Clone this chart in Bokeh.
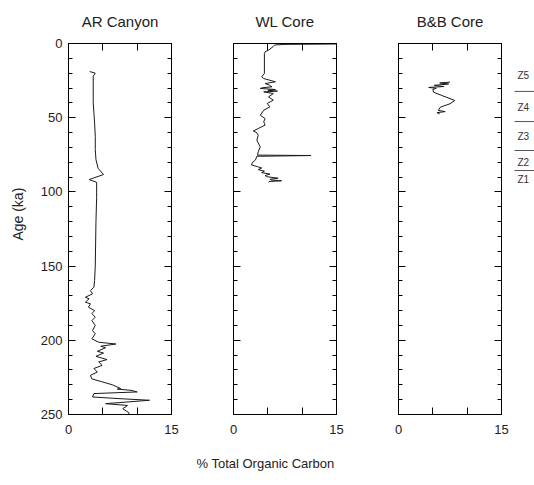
import math
from bokeh.plotting import figure
from bokeh.models import Range1d, LinearAxis, FixedTicker, Spacer
from bokeh.core.properties import value
from bokeh.layouts import row, column
from bokeh.embed import file_html
from bokeh.resources import INLINE

# ---- data ----
PANEL_TITLES = ["AR Canyon", "WL Core", "B&B Core"]
X_TICKS = [0, 15]
X_MINOR_TICKS = [5, 10]
Y_TICKS = [0, 50, 100, 150, 200, 250]
Y_MINOR_TICKS = [10, 20, 30, 40, 60, 70, 80, 90, 110, 120, 130, 140, 160, 170, 180, 190, 210, 220, 230, 240]

AR_AGE = [18.9, 20.0, 22.0, 28.8, 40.0, 46.7, 53.5, 62.5, 71.4, 78.2, 84.0, 88.3, 91.7, 93.5, 103.6,
          120.0, 150.0, 159.7, 164.2, 166.5, 168.7, 171.0, 172.0, 174.3, 175.4, 177.7, 180.0, 182.0,
          184.4, 186.7, 190.0, 193.4, 195.6, 199.0, 201.3, 202.5, 204.0, 205.0, 207.4, 208.6, 210.8,
          213.0, 214.6, 216.9, 219.0, 221.4, 223.6, 226.0, 228.0, 230.0, 232.5, 232.9, 233.7, 234.8,
          235.9, 238.2, 239.3, 240.4, 242.7, 243.9, 246.1, 248.8, 250.0]
AR_TOC = [3.1, 3.9, 3.6, 3.6, 3.6, 3.7, 3.8, 3.9, 3.9, 4.0, 4.3, 5.1, 3.0, 4.1, 4.1,
          4.0, 3.9, 3.8, 3.7, 3.2, 3.5, 2.45, 3.0, 2.45, 3.2, 2.9, 3.8, 3.4,
          3.9, 3.4, 3.9, 3.5, 3.9, 3.4, 4.4, 6.9, 4.7, 5.4, 4.2, 5.1, 4.0,
          5.6, 4.4, 4.9, 3.7, 4.2, 3.2, 3.4, 4.9, 6.4, 7.6, 7.1, 9.1, 10.0,
          3.7, 3.5, 7.35, 11.8, 5.4, 8.6, 7.9, 8.8, 8.8]

WL_AGE = [0.3, 0.6, 1.0, 2.0, 2.7, 4.5, 5.6, 6.7, 20.2, 22.5, 23.6, 25.8, 27.0, 28.0, 29.2,
          29.8, 30.3, 31.0, 31.5, 32.1, 32.6, 33.7, 36.0, 38.2, 40.4, 42.7, 45.0, 48.3, 50.6,
          52.8, 55.0, 57.3, 58.9, 60.2, 61.8, 65.2, 69.7, 73.0, 75.2, 75.5, 76.0, 78.5, 80.0,
          81.8, 83.0, 83.9, 85.0, 86.0, 87.0, 88.0, 89.0, 89.7, 90.8, 91.5, 92.0, 92.5, 93.0, 93.6]
WL_TOC = [16.0, 7.5, 6.0, 5.8, 5.6, 5.1, 4.6, 4.5, 4.5, 4.1, 4.4, 6.1, 4.6, 5.2, 5.6,
          4.2, 3.9, 6.1, 5.0, 6.4, 4.4, 5.8, 5.1, 5.8, 4.9, 5.3, 4.4, 3.9, 4.6,
          4.4, 4.6, 3.6, 2.9, 3.4, 3.6, 3.4, 3.9, 3.6, 3.5, 11.3, 3.4, 3.2, 2.8,
          2.6, 3.5, 4.1, 3.6, 4.5, 4.1, 5.3, 4.6, 4.8, 6.5, 5.3, 5.5, 7.0, 5.2, 5.1]

BB_AGE = [26.0, 26.6, 27.3, 28.2, 29.0, 29.6, 30.2, 31.0, 32.8, 35.0, 38.4, 40.6, 42.9, 45.1, 45.9, 46.6, 47.4]
BB_TOC = [7.5, 6.0, 7.3, 5.2, 6.6, 4.4, 5.5, 5.0, 5.1, 6.3, 8.2, 7.5, 6.1, 5.8, 6.8, 5.6, 6.0]

ZONE_LABELS = ["Z5", "Z4", "Z3", "Z2", "Z1"]
ZONE_LABEL_AGE = [21.5, 43.0, 62.7, 80.0, 91.5]
ZONE_BOUNDARY_AGE = [32.3, 52.6, 72.1, 85.6]

X_AXIS_TITLE = "% Total Organic Carbon"
Y_AXIS_TITLE = "Age (ka)"

# ---- layout constants ----
TITLE_H = 36
H = 412
MB_TOP = 7
MB_BOTTOM = 34
FONT = "Liberation Sans"
TXT = "#222222"

yr = Range1d(250, 0)


def style_axis(ax, ticks, minor=None, labels=True, standoff=6):
    ax.ticker = FixedTicker(ticks=ticks, minor_ticks=minor or [])
    ax.axis_line_color = "black"
    ax.major_tick_line_color = "black"
    ax.minor_tick_line_color = "black"
    ax.major_tick_in = 7
    ax.major_tick_out = 0
    ax.minor_tick_in = 4
    ax.minor_tick_out = 0
    ax.major_label_text_font = FONT
    ax.major_label_text_color = TXT
    ax.major_label_text_font_size = "13px"
    ax.major_label_standoff = standoff
    if not labels:
        ax.major_label_text_color = None
        ax.major_label_text_font_size = "1px"
        ax.major_label_standoff = 0


def blank(width, height, xr, yrange, mbl=0, mbr=0, mbt=0, mbb=0):
    f = figure(width=width, height=height, x_range=xr, y_range=yrange,
               output_backend="svg", toolbar_location=None,
               x_axis_location=None, y_axis_location=None,
               min_border_left=mbl, min_border_right=mbr,
               min_border_top=mbt, min_border_bottom=mbb)
    f.grid.visible = False
    f.outline_line_color = None
    return f


def panel(width, mbl, mbr, ages, toc, y_labels):
    p = figure(width=width, height=H, x_range=Range1d(0, 15), y_range=yr,
               output_backend="svg", toolbar_location=None,
               min_border_left=mbl, min_border_right=mbr,
               min_border_top=MB_TOP, min_border_bottom=MB_BOTTOM)
    p.grid.visible = False
    p.outline_line_color = "black"
    p.background_fill_color = "white"
    p.border_fill_color = "white"
    xa = p.xaxis[0]
    style_axis(xa, X_TICKS, X_MINOR_TICKS, standoff=10)
    xa.minor_tick_in = 7
    style_axis(p.yaxis[0], Y_TICKS, Y_MINOR_TICKS, labels=y_labels)
    top = LinearAxis()
    style_axis(top, X_MINOR_TICKS, labels=False)
    p.add_layout(top, "above")
    right = LinearAxis()
    style_axis(right, Y_TICKS, Y_MINOR_TICKS, labels=False)
    p.add_layout(right, "right")
    p.line(x=toc, y=ages, line_color="#1a1a1a", line_width=1)
    return p


def title_strip(width, mbl, mbr, text):
    t = blank(width, TITLE_H, Range1d(0, 15), Range1d(0, 1), mbl, mbr)
    t.text(x=[7.5], y=[0.42], text=[text], text_align="center",
           text_baseline="middle", text_font=value(FONT),
           text_font_size="15px", text_color=TXT)
    return t


WIDTHS = [172, 165, 146]
MBL = [40, 33, 33]
MBR = [29, 29, 10]

# y axis title strip
pa = blank(28, H, Range1d(0, 28), yr, mbt=MB_TOP, mbb=MB_BOTTOM)
pa.text(x=[17], y=[115], text=[Y_AXIS_TITLE], angle=math.pi / 2,
        text_align="center", text_baseline="middle", text_font=value(FONT),
        text_font_size="14px", text_color=TXT)

p1 = panel(WIDTHS[0], MBL[0], MBR[0], AR_AGE, AR_TOC, True)
p2 = panel(WIDTHS[1], MBL[1], MBR[1], WL_AGE, WL_TOC, False)
p3 = panel(WIDTHS[2], MBL[2], MBR[2], BB_AGE, BB_TOC, False)

titles = [title_strip(WIDTHS[i], MBL[i], MBR[i], PANEL_TITLES[i]) for i in range(3)]

# zone labels strip
pz = blank(23, H, Range1d(0, 1), yr, mbt=MB_TOP, mbb=MB_BOTTOM)
pz.segment(x0=0.13, x1=1.0, y0=ZONE_BOUNDARY_AGE, y1=ZONE_BOUNDARY_AGE,
           line_color="#555555", line_width=1)
pz.text(x=[0.26] * len(ZONE_LABELS), y=ZONE_LABEL_AGE, text=ZONE_LABELS,
        text_font_size="10px", text_baseline="middle", text_align="left",
        text_color="#333333", text_font=value(FONT))

# x axis title strip
pb = blank(534, 30, Range1d(0, 534), Range1d(0, 1))
pb.text(x=[265], y=[0.5], text=[X_AXIS_TITLE], text_align="center",
        text_baseline="middle", text_font=value(FONT),
        text_font_size="13px", text_color=TXT)

layout = column(
    row(Spacer(width=28, height=TITLE_H), *titles, Spacer(width=23, height=TITLE_H)),
    row(pa, p1, p2, p3, pz),
    pb,
)
open("out.html", "w").write(file_html(layout, INLINE))
